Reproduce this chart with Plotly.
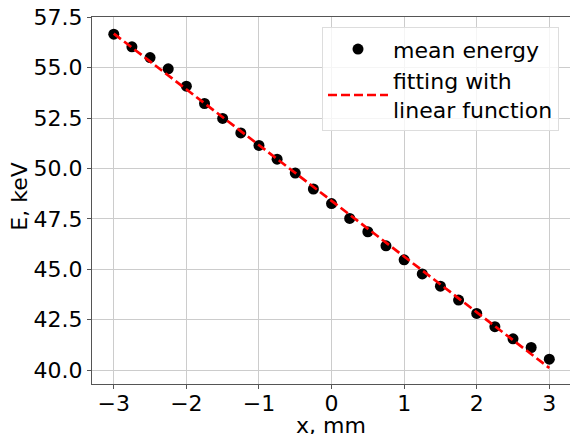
import numpy as np
import plotly.graph_objects as go

x_mm = [-3.0, -2.75, -2.5, -2.25, -2.0, -1.75, -1.5, -1.25, -1.0, -0.75, -0.5, -0.25,
        0.0, 0.25, 0.5, 0.75, 1.0, 1.25, 1.5, 1.75, 2.0, 2.25, 2.5, 2.75, 3.0]
mean_energy = [56.66, 56.03, 55.50, 54.94, 54.08, 53.22, 52.48, 51.76, 51.14, 50.46, 49.77, 48.98,
               48.26, 47.52, 46.86, 46.16, 45.47, 44.77, 44.16, 43.47, 42.81, 42.15, 41.55, 41.12, 40.54]
y_ticks = [40.0, 42.5, 45.0, 47.5, 50.0, 52.5, 55.0, 57.5]
x_ticks = [-3, -2, -1, 0, 1, 2, 3]

slope, intercept = np.polyfit(x_mm, mean_energy, 1)
fit_vals = [slope * v + intercept for v in x_mm]

FONT = "DejaVu Sans"
FS = 22
fig = go.Figure()
fig.add_trace(go.Scatter(
    x=x_mm, y=mean_energy, mode="markers", name="mean energy",
    marker=dict(color="black", size=11, line=dict(width=0)),
))
fig.add_trace(go.Scatter(
    x=x_mm, y=fit_vals, mode="lines", name="fitting with<br>linear function",
    line=dict(color="red", width=2.7, dash="9px,4px"),
))

axis_common = dict(
    showline=True, linecolor="#555555", linewidth=1,
    showgrid=True, gridcolor="#cccccc", gridwidth=1,
    ticks="outside", ticklen=4, tickcolor="#555555", tickwidth=1,
    zeroline=False,
    tickfont=dict(family=FONT, size=FS, color="black"),
)

fig.update_layout(
    width=570, height=434,
    margin=dict(l=92, r=0, t=17, b=50),
    plot_bgcolor="white", paper_bgcolor="white",
    font=dict(family=FONT, size=FS, color="black"),
    xaxis=dict(range=[-3.3, 3.285], tickvals=x_ticks,
               ticktext=["\u22123", "\u22122", "\u22121", "0", "1", "2", "3"],
               mirror=True, ticklabelstandoff=-4, **axis_common),
    yaxis=dict(range=[39.31, 57.51], tickvals=y_ticks,
               ticktext=[f"{v:.1f}" for v in y_ticks],
               mirror=False, ticklabelstandoff=0, **axis_common),
    legend=dict(
        x=0.977, y=0.972, xanchor="right", yanchor="top",
        bgcolor="rgba(255,255,255,0.8)", bordercolor="#dddddd", borderwidth=1,
        font=dict(family=FONT, size=FS, color="black"),
        itemwidth=60, tracegroupgap=0,
    ),
    showlegend=True,
    annotations=[
        dict(text="x, mm", xref="paper", yref="paper", x=0.5, y=-0.114,
             xanchor="center", yanchor="middle", showarrow=False,
             font=dict(family=FONT, size=FS, color="black")),
        dict(text="E, keV", xref="paper", yref="paper", x=-0.151, y=0.51,
             xanchor="center", yanchor="middle", showarrow=False, textangle=-90,
             font=dict(family=FONT, size=FS, color="black")),
    ],
)

fig.write_html("out.html")
